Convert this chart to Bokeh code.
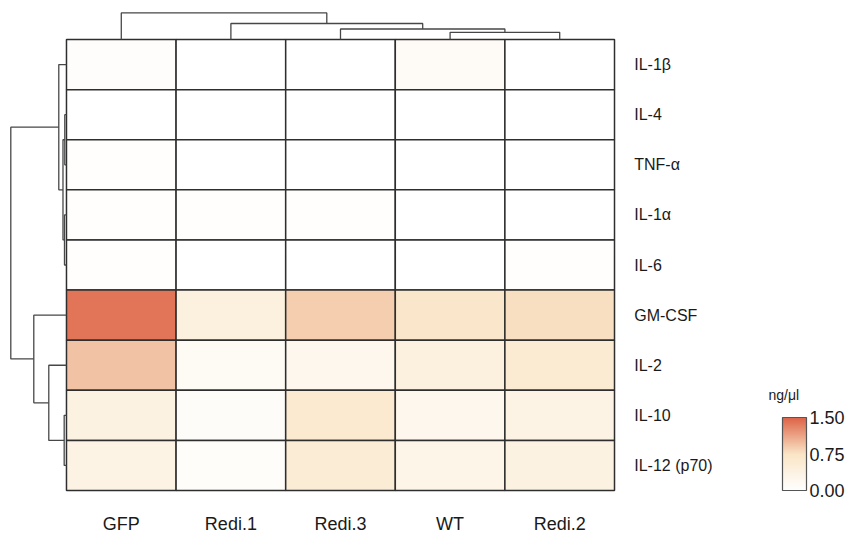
from bokeh.plotting import figure
from bokeh.models import Range1d, LinearColorMapper, ColorBar, FixedTicker, PrintfTickFormatter, ColumnDataSource
from bokeh.embed import file_html
from bokeh.resources import INLINE
from bokeh.core.properties import value

# ---------------- data ----------------
samples = ["GFP", "Redi.1", "Redi.3", "WT", "Redi.2"]
cytokines = ["IL-1β", "IL-4", "TNF-α", "IL-1α", "IL-6", "GM-CSF", "IL-2", "IL-10", "IL-12 (p70)"]

# concentration, ng/μl (columns follow `samples`)
il1b = [0.05, 0.00, 0.00, 0.14, 0.00]
il4 = [0.00, 0.00, 0.00, 0.00, 0.00]
tnfa = [0.04, 0.00, 0.00, 0.00, 0.00]
il1a = [0.04, 0.04, 0.04, 0.00, 0.00]
il6 = [0.04, 0.00, 0.00, 0.00, 0.04]
gmcsf = [1.40, 0.42, 0.88, 0.68, 0.78]
il2 = [0.95, 0.15, 0.22, 0.42, 0.58]
il10 = [0.38, 0.08, 0.62, 0.22, 0.36]
il12 = [0.35, 0.07, 0.55, 0.30, 0.38]
rows = [il1b, il4, tnfa, il1a, il6, gmcsf, il2, il10, il12]

# hierarchical clustering (child a, child b, height); leaves are 0..n-1
col_linkage = [(3, 4, 0.72), (2, 5, 1.05), (1, 6, 1.60), (0, 7, 2.66)]
row_linkage = [(1, 2, 0.17), (3, 4, 0.20), (7, 8, 0.23), (9, 10, 0.35),
               (0, 12, 0.77), (6, 11, 1.77), (5, 14, 3.27), (13, 15, 5.57)]

cbar_ticks = [0.0, 0.75, 1.5]
cbar_title = "ng/μl"

# ---------------- style ----------------
FONT = "Liberation Sans"
stops = [(0.0, (255, 255, 255)), (0.5, (250, 229, 198)), (1.0, (222, 99, 71))]


def make_palette(n=256):
    out = []
    for k in range(n):
        t = k / (n - 1)
        for (t0, c0), (t1, c1) in zip(stops[:-1], stops[1:]):
            if t0 <= t <= t1:
                f = (t - t0) / (t1 - t0)
                c = [round(a + (b - a) * f) for a, b in zip(c0, c1)]
                out.append("#%02x%02x%02x" % tuple(c))
                break
    return out


palette = make_palette()
mapper = LinearColorMapper(palette=palette, low=cbar_ticks[0], high=cbar_ticks[-1])

# data units: one heatmap column / one row per unit
W, H = 849, 535
p = figure(width=W, height=H, output_backend="svg", toolbar_location=None,
           x_range=Range1d(-0.602, 7.144), y_range=Range1d(-0.898, 9.779),
           min_border=0, background_fill_color="white", border_fill_color="white")
p.xaxis.visible = False
p.yaxis.visible = False
p.grid.visible = False
p.outline_line_color = None

# ---------------- heatmap ----------------
nr = len(cytokines)
left, right, bottom, top, val = [], [], [], [], []
for j, r in enumerate(rows):
    for i, v in enumerate(r):
        left.append(i)
        right.append(i + 1)
        top.append(nr - j)
        bottom.append(nr - j - 1)
        val.append(v)
src = ColumnDataSource(dict(left=left, right=right, top=top, bottom=bottom, val=val))
p.quad(left="left", right="right", top="top", bottom="bottom", source=src,
       fill_color={"field": "val", "transform": mapper},
       line_color="#2e2e2e", line_width=1.5)


# ---------------- dendrograms ----------------
def dendro_segments(linkage, n):
    pos = {i: float(i) for i in range(n)}
    hgt = {i: 0.0 for i in range(n)}
    segs = []
    for k, (a, b, h) in enumerate(linkage):
        node = n + k
        segs.append(([pos[a], pos[a], pos[b], pos[b]], [hgt[a], h, h, hgt[b]]))
        pos[node] = (pos[a] + pos[b]) / 2
        hgt[node] = h
    return segs


# top (columns)
col_scale = 0.2
xs, ys = [], []
for lp, hh in dendro_segments(col_linkage, len(samples)):
    xs.append([q + 0.5 for q in lp])
    ys.append([nr + q * col_scale for q in hh])
p.multi_line(xs, ys, line_color="#474747", line_width=1.3)

# left (rows)
row_scale = 0.0912
xs, ys = [], []
for lp, hh in dendro_segments(row_linkage, nr):
    ys.append([nr - (q + 0.5) for q in lp])
    xs.append([-q * row_scale for q in hh])
p.multi_line(xs, ys, line_color="#474747", line_width=1.3)

# ---------------- labels ----------------
p.text(x=[len(samples) + 0.18] * nr, y=[nr - j - 0.5 for j in range(nr)], text=cytokines,
       text_font=value(FONT), text_font_size="16px", text_color="#1a1a1a",
       text_align="left", text_baseline="middle")
p.text(x=[i + 0.5 for i in range(len(samples))], y=[-0.66] * len(samples), text=samples,
       text_font=value(FONT), text_font_size="18px", text_color="#1a1a1a",
       text_align="center", text_baseline="middle")
p.text(x=[6.405], y=[1.90], text=[cbar_title],
       text_font=value(FONT), text_font_size="14px", text_color="#1a1a1a",
       text_align="left", text_baseline="middle")

# ---------------- colour bar ----------------
cb = ColorBar(color_mapper=mapper, location=(782, 45), width=24, height=73,
              padding=0, ticker=FixedTicker(ticks=cbar_ticks),
              formatter=PrintfTickFormatter(format="%.2f"),
              major_tick_line_color=None, minor_tick_line_color=None,
              bar_line_color="#555555", bar_line_width=1.2,
              label_standoff=3, major_label_text_font=FONT,
              major_label_text_font_size="18px", major_label_text_color="#1a1a1a",
              background_fill_color=None, border_line_color=None)
p.add_layout(cb, "center")

open("out.html", "w").write(file_html(p, INLINE))
